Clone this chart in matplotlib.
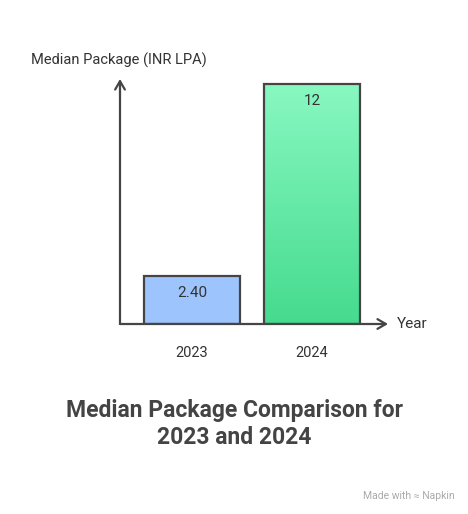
import numpy as np
import matplotlib.pyplot as plt
from matplotlib.colors import LinearSegmentedColormap

plt.rcParams['font.family'] = ['Roboto', 'DejaVu Sans']

years = ['2023', '2024']
medians = [2.40, 12]
value_labels = ['2.40', '12']

W, H = 468, 514
fig = plt.figure(figsize=(W / 100, H / 100), dpi=100)

# axes placed in pixel terms: y axis at x=120, x axis at y=324
left, right, bottom, top = 120, 388, 324, 79
ax = fig.add_axes([left / W, (H - bottom) / H, (right - left) / W, (bottom - top) / H])
ax.set_xlim(-0.6, -0.6 + (right - left) / 120)
ax.set_ylim(0, 12.25)
ax.axis('off')

edge = '#454545'
x = np.arange(len(years))
bars = ax.bar(x, medians, width=0.8, color=['#9ec4fd', 'none'],
              edgecolor=edge, linewidth=1.6, zorder=3)

# vertical gradient for the 2024 bar
b = bars[1]
cmap = LinearSegmentedColormap.from_list('g', ['#45db8e', '#88f8c1'])
grad = np.linspace(0, 1, 256).reshape(-1, 1)
im = ax.imshow(grad, cmap=cmap, origin='lower', aspect='auto',
               extent=[b.get_x(), b.get_x() + b.get_width(), 0, b.get_height()], zorder=2)
im.set_clip_path(b)

for xi, v, lab in zip(x, medians, value_labels):
    ax.text(xi, v - 0.85, lab, ha='center', va='center', fontsize=11, color='#333333', zorder=4)

# axis arrows
arrow = dict(arrowstyle='->,head_length=0.6,head_width=0.35', color=edge, lw=1.6,
             shrinkA=0, shrinkB=0)
ax.annotate('', xy=(0, 1), xytext=(0, 0), xycoords='axes fraction', arrowprops=arrow)
ax.annotate('', xy=(1, 0), xytext=(0, 0), xycoords='axes fraction', arrowprops=arrow)

for xi, yr in zip(x, years):
    fig.text((left + (xi + 0.6) * 120) / W, 1 - 353 / H, yr, ha='center', va='center',
             fontsize=10.5, color='#333333')

fig.text(397 / W, 1 - 324 / H, 'Year', ha='left', va='center', fontsize=11, color='#333333')
fig.text(31 / W, 1 - 60 / H, 'Median Package (INR LPA)', ha='left', va='center',
         fontsize=10.5, color='#333333')

fig.text(234 / W, 1 - 410 / H, 'Median Package Comparison for', ha='center', va='center',
         fontsize=16.5, fontweight='bold', color='#444444')
fig.text(234 / W, 1 - 438 / H, '2023 and 2024', ha='center', va='center',
         fontsize=16.5, fontweight='bold', color='#444444')

fig.text(455 / W, 1 - 496 / H, 'Made with \u2248 Napkin', ha='right', va='center',
         fontsize=7.5, color='#aaaaaa')

fig.savefig('out.png', dpi=100)
